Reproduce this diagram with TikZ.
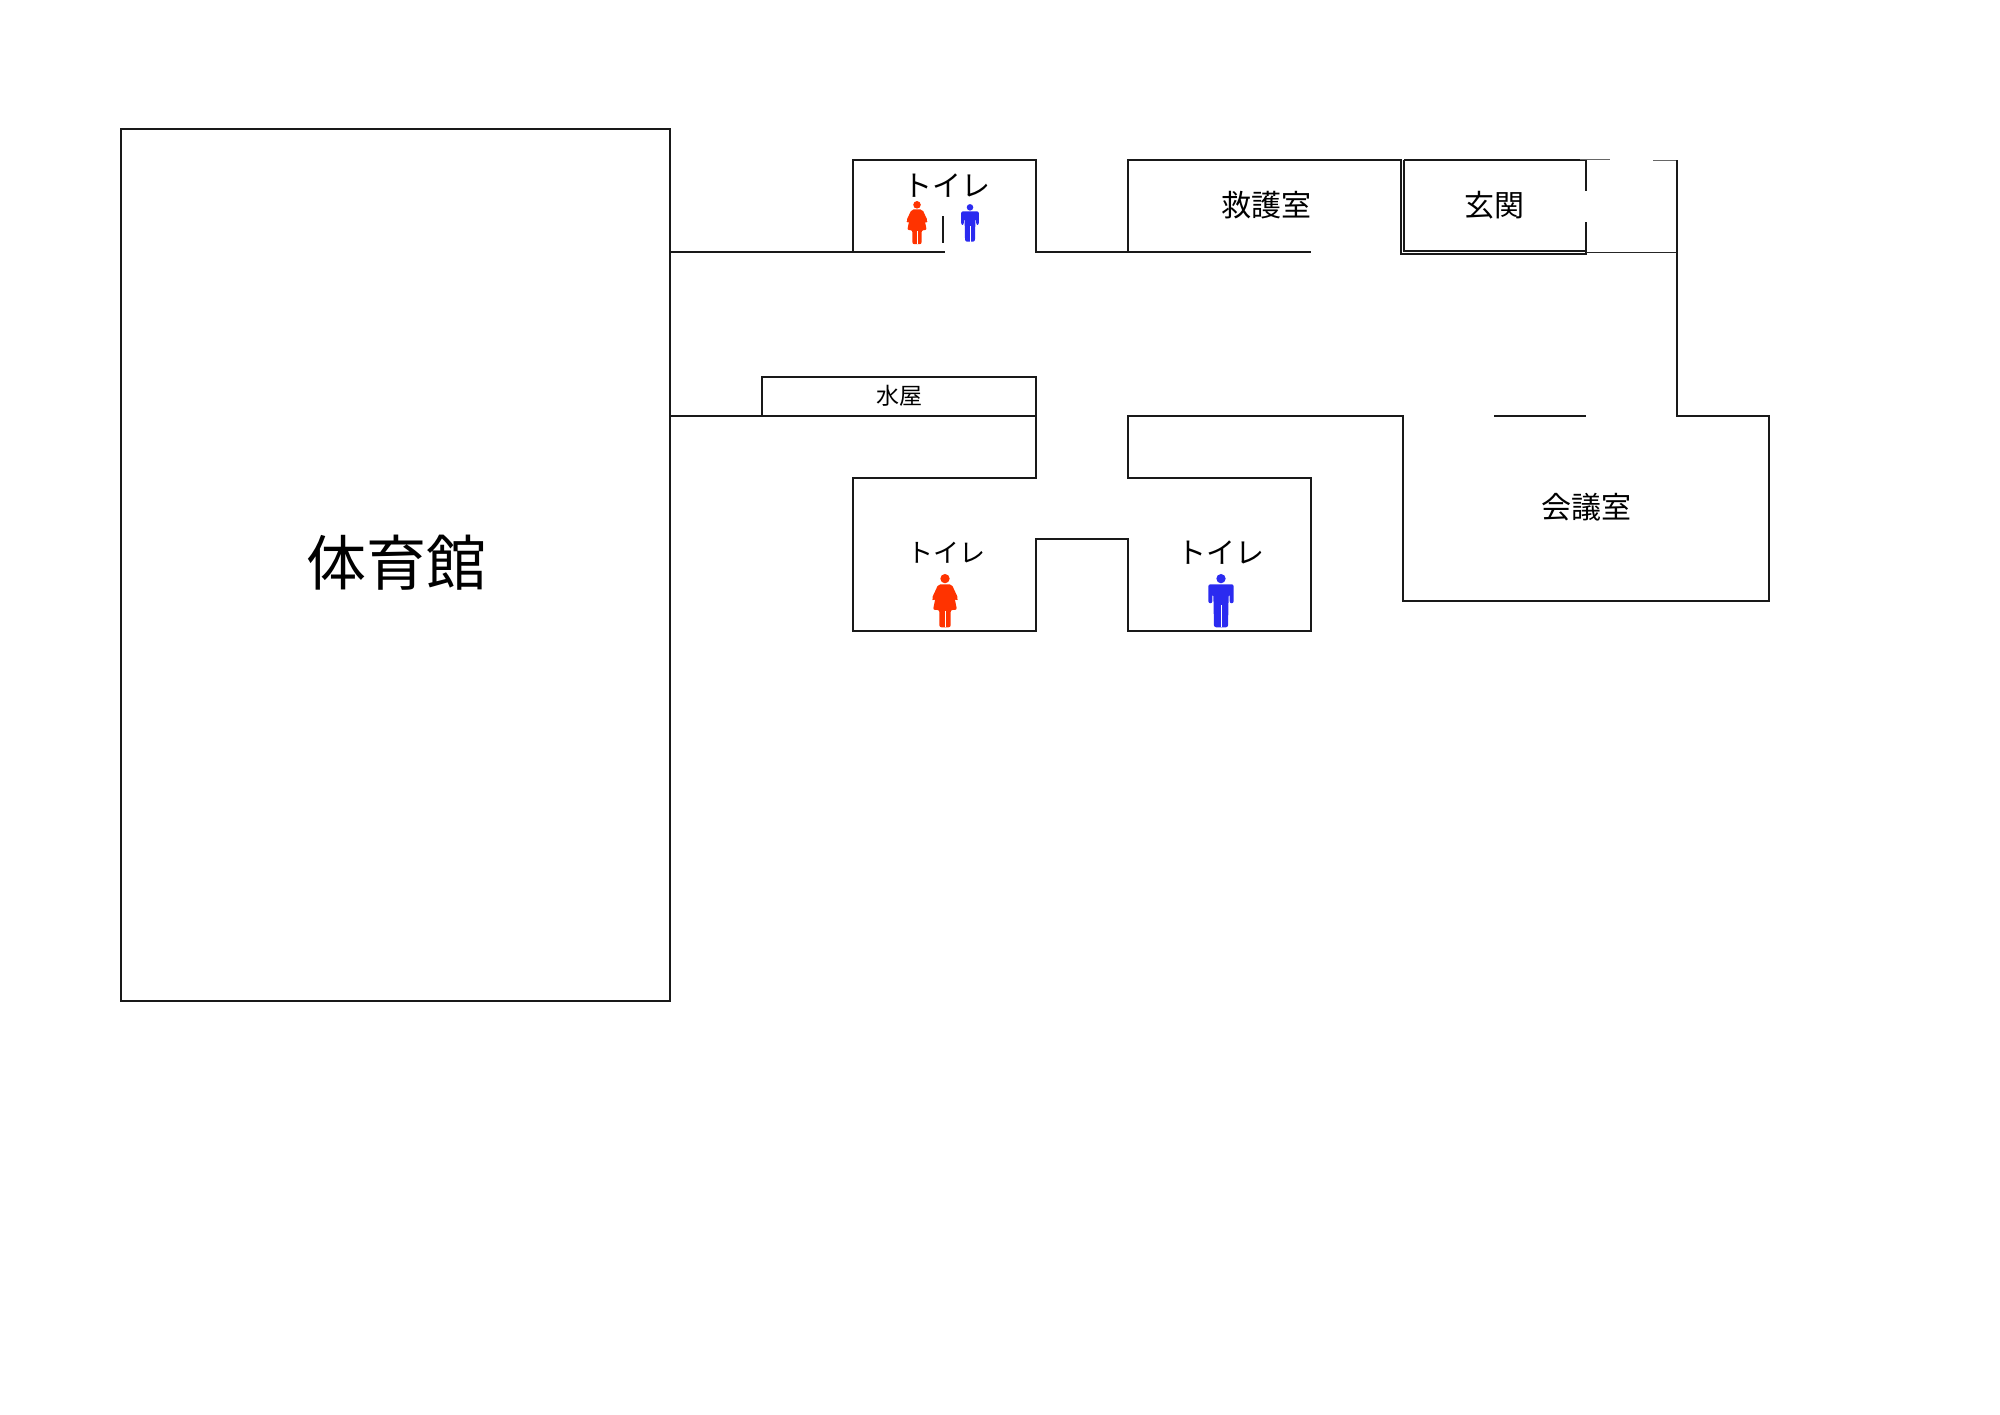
\documentclass[tikz,border=0pt]{standalone}
\usepackage{fontspec}
\setmainfont{Noto Sans CJK JP}
\definecolor{womanred}{HTML}{FF3300}
\definecolor{manblue}{HTML}{2B2BF0}
\tikzset{
	wall/.style={draw=black!90, line width=2pt, line join=miter},
	thinwall/.style={draw=black!60, line width=1.2pt},
	room/.style={font=\fontsize{30}{30}\selectfont, inner sep=0pt},
	woman/.pic={
		\fill[womanred] (0,13) circle (14);
		\fill[womanred, rounded corners=2] (-20,30) -- (20,30) -- (40,73) -- (35,80) -- (29,72) -- (36,107) -- (17,107) -- (17,159) -- (-17,159) -- (-17,107) -- (-36,107) -- (-29,72) -- (-35,80) -- (-40,73) -- cycle;
		\draw[white, line width=.3pt] (0,110) -- (0,159);
	},
	man/.pic={
		\fill[manblue] (0,13) circle (14);
		\fill[manblue, rounded corners=2] (-38,30) -- (38,30) -- (38,87) -- (26,87) -- (26,60) -- (23,60) -- (21,159) -- (-21,159) -- (-23,60) -- (-26,60) -- (-26,87) -- (-38,87) -- cycle;
		\draw[white, line width=.3pt] (0,92) -- (0,159);
	},
}
\begin{document}
\begin{tikzpicture}[x=1pt, y=-1pt]
\useasboundingbox (0,-.3) rectangle (2000,1413.7);

\draw[wall] (121,129) rectangle (670,1001);
\draw[wall] (670,252) -- (945,252);
\draw[wall] (853,252) -- (853,160) -- (1036,160) -- (1036,252) -- (1128,252);
\draw[wall] (943,216) -- (943,243);
\draw[wall] (1128,252) -- (1128,160) -- (1402,160);
\draw[wall] (1128,252) -- (1311,252);
\draw[wall] (1404,160) -- (1586,160) -- (1586,191);
\draw[wall] (1586,222) -- (1586,251) -- (1404,251) -- (1404,160);
\draw[wall] (1401,160) -- (1401,254) -- (1586,254) -- (1586,251);
\draw[thinwall] (1580,159) -- (1610,159);
\draw[thinwall] (1653,160.5) -- (1677,160.5);
\draw[thinwall, draw=black!85, line width=1.6pt] (1586,252) -- (1677,252);
\draw[wall] (1677,160) -- (1677,416) -- (1769,416) -- (1769,601) -- (1403,601) -- (1403,416) -- (1128,416) -- (1128,478) -- (1311,478) -- (1311,631) -- (1128,631) -- (1128,539) -- (1036,539) -- (1036,631) -- (853,631) -- (853,478) -- (1036,478) -- (1036,377) -- (762,377) -- (762,416);
\draw[wall] (670,416) -- (1036,416);
\draw[wall] (1494,416) -- (1586,416);

\node[inner sep=0pt, font=\fontsize{60}{60}\selectfont] (gym) at (396,562) {体育館};
\node[room] (aid) at (1266,204.5) {救護室};
\node[room] (entrance) at (1494,204.5) {玄関};
\node[room] (meeting) at (1586,506.5) {会議室};
\node[room, font=\fontsize{23}{23}\selectfont] (water) at (899,395.5) {水屋};
\node[room, font=\fontsize{29}{29}\selectfont] (wctop) at (947,185) {トイレ};
\node[room, font=\fontsize{26}{26}\selectfont] (wcleft) at (946.5,552.5) {トイレ};
\node[room, font=\fontsize{29}{29}\selectfont] (wcright) at (1220.5,552) {トイレ};

\pic[scale=.27] at (917,201) {woman};
\pic[scale=.235] at (970,204) {man};
\pic[scale=.333] at (945,574) {woman};
\pic[scale=.333] at (1221,574) {man};
\end{tikzpicture}
\end{document}
